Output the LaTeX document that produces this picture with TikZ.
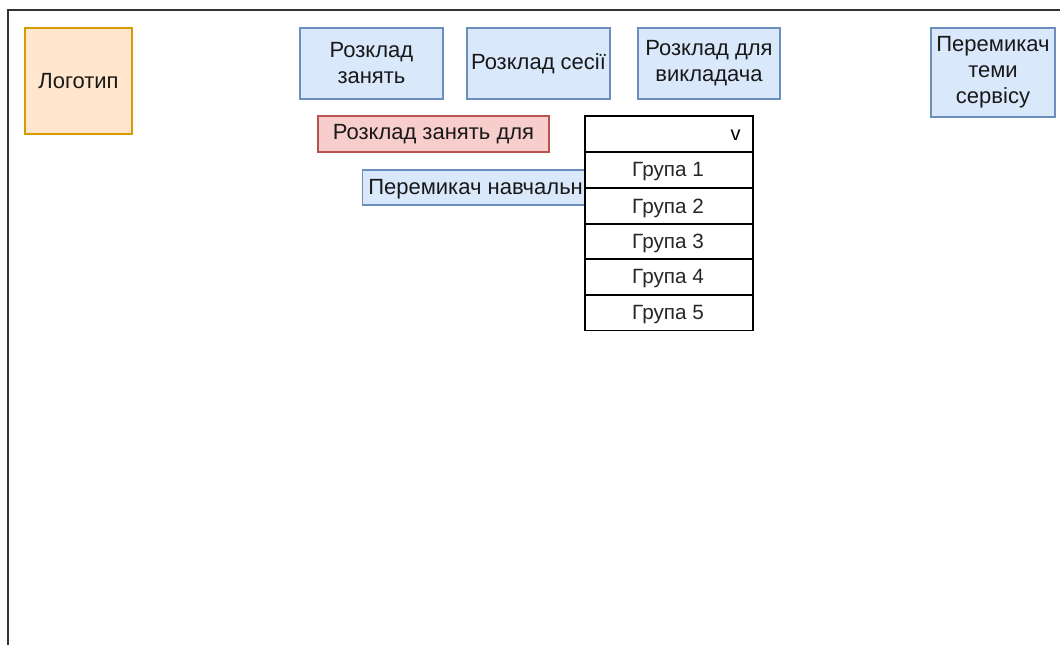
\documentclass[tikz,border=0pt]{standalone}
\usepackage{fontspec}
\setmainfont{Liberation Sans}
\definecolor{bfill}{HTML}{DAE8FC}
\definecolor{bdraw}{HTML}{6C8EBF}
\definecolor{ofill}{HTML}{FFE6CC}
\definecolor{odraw}{HTML}{D79B00}
\definecolor{rfill}{HTML}{F8CECC}
\definecolor{rdraw}{HTML}{B85450}
\definecolor{frame}{HTML}{333333}
\tikzset{
  box/.style={rectangle, draw, line width=1pt, inner sep=0pt, align=center,
    font=\fontsize{16.5}{19.5}\selectfont, text=black!90},
  bluebox/.style={box, fill=bfill, draw=bdraw},
  orangebox/.style={box, fill=ofill, draw=odraw},
  redbox/.style={box, fill=rfill, draw=rdraw},
  listrow/.style={rectangle, draw=black, fill=white, line width=1.2pt, inner sep=0pt,
    minimum width=126pt, minimum height=26.7pt, font=\fontsize{15.5}{18}\selectfont, text=black!85},
  rowtext/.style={inner sep=0pt, font=\fontsize{15.5}{18}\selectfont, text=black!85},
}
\begin{document}
\begin{tikzpicture}[x=0.75pt,y=-0.75pt]
\useasboundingbox (0,0) rectangle (1060,644);
\begin{scope}
\clip (0,0) rectangle (1060,644);
\draw[frame, line width=1.5pt] (8,10) rectangle (1080,680);
\end{scope}
\node[orangebox, minimum width=80.25pt, minimum height=79.5pt] (logo) at (78.5,81) {Логотип};
\node[bluebox, minimum width=107.25pt, minimum height=53.25pt] (zan) at (371.5,63.5) {Розклад\\занять};
\node[bluebox, minimum width=107.25pt, minimum height=53.25pt] (ses) at (538.5,63.5) {Розклад сесії};
\node[bluebox, minimum width=106.5pt, minimum height=53.25pt] (vyk) at (709,63.5) {Розклад для\\викладача};
\node[bluebox, minimum width=93pt, minimum height=66.75pt] (tema) at (993,72.5) {Перемикач\\теми\\сервісу};
\node[redbox, minimum width=173.25pt, minimum height=27pt] (dlya) at (433.5,134) {Розклад занять для};
\node[bluebox, minimum width=178.5pt, minimum height=26.25pt, anchor=west] (nav) at (362,187.5) {};
\node[anchor=west, inner sep=0pt, font=\fontsize{16.5}{19.5}\selectfont, text=black!90] (navt) at (368,189) {Перемикач навчальни};
\node[listrow] (hdr) at (669,134) {};
\node[anchor=east, inner sep=0pt, font=\fontsize{15}{18}\selectfont] (vv) at (741,135) {v};
\foreach \i/\y in {1/170,2/206,3/241.5,4/277,5/312.5}{
  \node[listrow] (g\i) at (669,\y) {};
  \node[rowtext] (g\i t) at (668,\y+2) {Група \i};
}
\end{tikzpicture}
\end{document}
